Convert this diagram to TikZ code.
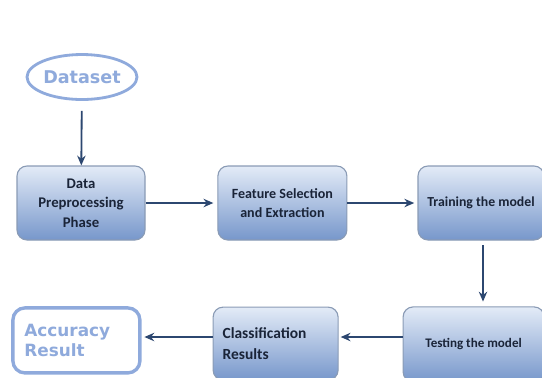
\documentclass[tikz,border=0pt]{standalone}
\usepackage{fontspec}
\setmainfont{Carlito}
\newfontfamily\headfont{DejaVu Sans}
\usetikzlibrary{arrows.meta,shapes.geometric}
\definecolor{lightblue}{HTML}{8FAADC}
\definecolor{navyline}{HTML}{2C4770}
\definecolor{boxtop}{HTML}{E3EBF7}
\definecolor{boxbot}{HTML}{7797CB}
\definecolor{boxedge}{HTML}{8A9BB5}
\definecolor{boxtext}{HTML}{1A2438}
\tikzset{
	stagebox/.style={draw=boxedge, line width=0.8pt, rounded corners=0.25cm,
		top color=boxtop, bottom color=boxbot, text=boxtext,
		font=\bfseries\fontsize{10}{14}\selectfont, align=center, inner sep=2pt},
	endbox/.style={draw=lightblue, line width=2.4pt, rounded corners=0.3cm, fill=white,
		text=lightblue, font=\headfont\bfseries\fontsize{12}{14}\selectfont, align=left},
	flowarrow/.style={draw=navyline, line width=1.3pt, -{Stealth[length=7pt,width=6pt]}}
}

\begin{document}
\begin{tikzpicture}
		%%%%% START %%%%%
		\useasboundingbox (0, 0) rectangle (13.55, -9.425);
		
		\node[ellipse, draw=lightblue, line width=2pt, fill=white, text=lightblue,
			font=\headfont\bfseries\fontsize{12.5}{14}\selectfont,
			minimum width=2.75cm, minimum height=1.125cm, inner sep=0pt] (dataset) at (2.05, -1.925) {Dataset};
		
		\node[stagebox, minimum width=3.2cm, minimum height=1.85cm, font=\bfseries\fontsize{10.5}{14}\selectfont] (preproc) at (2.025, -5.075) {Data\\Preprocessing\\Phase};
		\node[stagebox, minimum width=3.225cm, minimum height=1.85cm] (features) at (7.06, -5.075) {Feature Selection\\and Extraction};
		\node[stagebox, minimum width=3.15cm, minimum height=1.85cm, font=\bfseries\fontsize{9.8}{12}\selectfont] (training) at (12.025, -5.075) {Training the model};
		
		\node[stagebox, minimum width=3.525cm, minimum height=1.875cm, font=\bfseries\fontsize{9.3}{12}\selectfont] (testing) at (11.84, -8.61) {Testing the model};
		\node[stagebox, minimum width=3.125cm, minimum height=1.825cm, align=left, text width=2.65cm,
			font=\bfseries\fontsize{11}{15.5}\selectfont] (classify) at (6.89, -8.59) {Classification\\Results};
		\node[endbox, minimum width=3.175cm, minimum height=1.625cm, text width=2.6cm] (accuracy) at (1.91, -8.51) {Accuracy\\Result};
		
		\draw[flowarrow, shorten <=0.25cm] (dataset) -- (preproc);
		\draw[flowarrow, shorten >=0.1cm] (preproc) -- (features);
		\draw[flowarrow, shorten >=0.08cm] (features) -- (training.west |- features.east);
		\draw[flowarrow, shorten <=0.12cm, shorten >=0.12cm] (training.south -| 12.075, 0) -- (testing.north -| 12.075, 0);
		\draw[flowarrow, shorten >=0.05cm] (testing.west |- 0, -8.425) -- (classify.east |- 0, -8.425);
		\draw[flowarrow, shorten >=0.07cm] (classify.west |- 0, -8.425) -- (accuracy.east |- 0, -8.425);
		
		%%%%% END %%%%%
	\end{tikzpicture}
\end{document}
